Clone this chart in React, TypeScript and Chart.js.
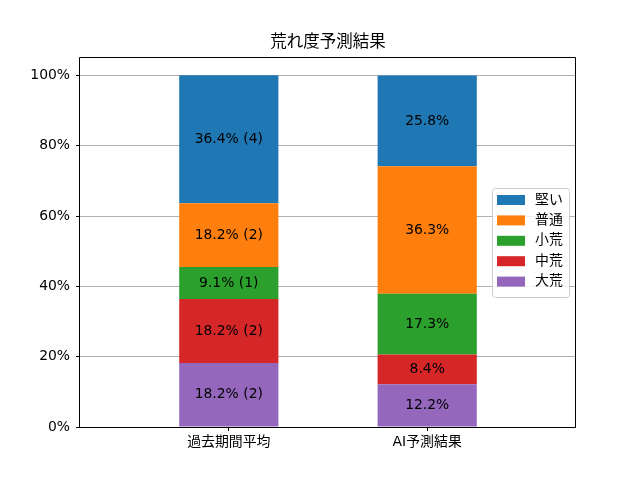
import React, { useEffect, useRef } from 'react';
import { Chart, registerables, Plugin } from 'chart.js';

Chart.register(...registerables);

const categories = ['過去期間平均', 'AI予測結果'];
const seriesNames = ['大荒', '中荒', '小荒', '普通', '堅い'];
const seriesColors = ['#9467bd', '#d62728', '#2ca02c', '#ff7f0e', '#1f77b4'];
// percentages, bottom of the stack first
const pastValues = [18.2, 18.2, 9.1, 18.2, 36.4];
const pastCounts = [2, 2, 1, 2, 4];
const aiValues = [12.2, 8.4, 17.3, 36.3, 25.8];
const yTicks = [0, 20, 40, 60, 80, 100];

const FONT = '"DejaVu Sans", "Noto Sans CJK JP", sans-serif';

const titlePlugin: Plugin = {
    id: 'mplTitle',
    afterDraw(chart) {
        const { ctx, chartArea } = chart;
        ctx.save();
        ctx.font = `16.5px ${FONT}`;
        ctx.fillStyle = '#000';
        ctx.textAlign = 'center';
        ctx.textBaseline = 'middle';
        ctx.fillText('荒れ度予測結果', (chartArea.left + chartArea.right) / 2, 43);
        ctx.restore();
    },
};

const framePlugin: Plugin = {
    id: 'mplFrame',
    afterDraw(chart) {
        const { ctx, chartArea } = chart;
        const l = Math.round(chartArea.left) - 0.5;
        const r = Math.round(chartArea.right) - 0.5;
        const t = Math.round(chartArea.top) - 0.5;
        const b = Math.round(chartArea.bottom) + 0.5;
        ctx.save();
        ctx.strokeStyle = '#000';
        ctx.lineWidth = 1;
        ctx.beginPath();
        ctx.moveTo(l, b);
        ctx.lineTo(l, t);
        ctx.lineTo(r, t);
        ctx.lineTo(r, b);
        ctx.closePath();
        ctx.stroke();
        ctx.restore();
    },
};

const labelPlugin: Plugin = {
    id: 'segmentLabels',
    afterDatasetsDraw(chart) {
        const { ctx } = chart;
        ctx.save();
        ctx.font = `13.9px ${FONT}`;
        ctx.fillStyle = '#000';
        ctx.textAlign = 'center';
        ctx.textBaseline = 'middle';
        chart.data.datasets.forEach((ds, di) => {
            const meta = chart.getDatasetMeta(di);
            meta.data.forEach((bar: any, i) => {
                const v = (ds.data[i] as any).y as number;
                const text = i === 0 ? `${v.toFixed(1)}% (${pastCounts[di]})` : `${v.toFixed(1)}%`;
                ctx.fillText(text, bar.x, (bar.y + bar.base) / 2);
            });
        });
        ctx.restore();
    },
};

const legendPlugin: Plugin = {
    id: 'innerLegend',
    afterDraw(chart) {
        const { ctx, chartArea } = chart;
        const w = 77;
        const h = 109;
        const x = chartArea.right - 7 - w;
        const y = 188;
        ctx.save();
        ctx.beginPath();
        ctx.roundRect(x + 0.5, y + 0.5, w, h, 3);
        ctx.fillStyle = 'rgba(255,255,255,0.8)';
        ctx.fill();
        ctx.strokeStyle = '#cccccc';
        ctx.lineWidth = 1;
        ctx.stroke();
        ctx.font = `13.9px ${FONT}`;
        ctx.textBaseline = 'middle';
        ctx.textAlign = 'left';
        const order = [...seriesNames.keys()].reverse();
        order.forEach((si, row) => {
            const cy = y + 12 + row * 20.4;
            ctx.fillStyle = seriesColors[si];
            ctx.fillRect(x + 5, cy - 5, 28, 10);
            ctx.fillStyle = '#000';
            ctx.fillText(seriesNames[si], x + 43, cy);
        });
        ctx.restore();
    },
};

const App: React.FC = () => {
    const chartRef = useRef<HTMLCanvasElement>(null);

    useEffect(() => {
        document.body.style.margin = '0';
        let chartInstance: Chart | undefined;
        if (chartRef.current) {
            const ctx = chartRef.current.getContext('2d');
            if (ctx) {
                chartInstance = new Chart(ctx, {
                    type: 'bar',
                    data: {
                        datasets: seriesNames.map((name, si) => ({
                            label: name,
                            data: [
                                { x: 0, y: pastValues[si] },
                                { x: 1, y: aiValues[si] },
                            ],
                            backgroundColor: seriesColors[si],
                            borderWidth: 0,
                            categoryPercentage: 1,
                            barPercentage: 0.5,
                        })),
                    },
                    options: {
                        responsive: false,
                        animation: false,
                        layout: { padding: { top: 58, right: 64, left: 0, bottom: 0 } },
                        plugins: {
                            legend: { display: false },
                            tooltip: { enabled: false },
                            title: { display: false },
                        },
                        scales: {
                            x: {
                                type: 'linear',
                                stacked: true,
                                offset: false,
                                min: -0.75,
                                max: 1.75,
                                afterBuildTicks: (scale: any) => {
                                    scale.ticks = categories.map((_, i) => ({ value: i }));
                                },
                                afterFit: (scale: any) => {
                                    scale.height = 53;
                                },
                                ticks: {
                                    callback: (v: any) => categories[v as number] ?? '',
                                    font: { family: FONT, size: 13.9 },
                                    color: '#000',
                                    padding: 3,
                                    maxRotation: 0,
                                },
                                grid: {
                                    offset: false,
                                    drawOnChartArea: false,
                                    drawTicks: true,
                                    tickLength: 4,
                                    tickColor: '#000',
                                },
                                border: { display: false },
                            },
                            y: {
                                stacked: true,
                                min: 0,
                                max: 105,
                                afterBuildTicks: (scale: any) => {
                                    scale.ticks = yTicks.map((v) => ({ value: v }));
                                },
                                afterFit: (scale: any) => {
                                    scale.width = 80;
                                },
                                ticks: {
                                    callback: (v: any) => `${v}%`,
                                    font: { family: FONT, size: 13.9 },
                                    color: '#000',
                                    padding: 6,
                                },
                                grid: {
                                    color: '#b0b0b0',
                                    lineWidth: 1,
                                    tickLength: 4,
                                    tickColor: '#000',
                                },
                                border: { display: false },
                            },
                        },
                    },
                    plugins: [titlePlugin, framePlugin, labelPlugin, legendPlugin],
                });
            }
        }
        return () => {
            if (chartInstance) {
                chartInstance.destroy();
            }
        };
    }, []);

    return (
        <div style={{ width: 640, height: 480 }}>
            <canvas ref={chartRef} width={640} height={480}></canvas>
        </div>
    );
};

export default App;
